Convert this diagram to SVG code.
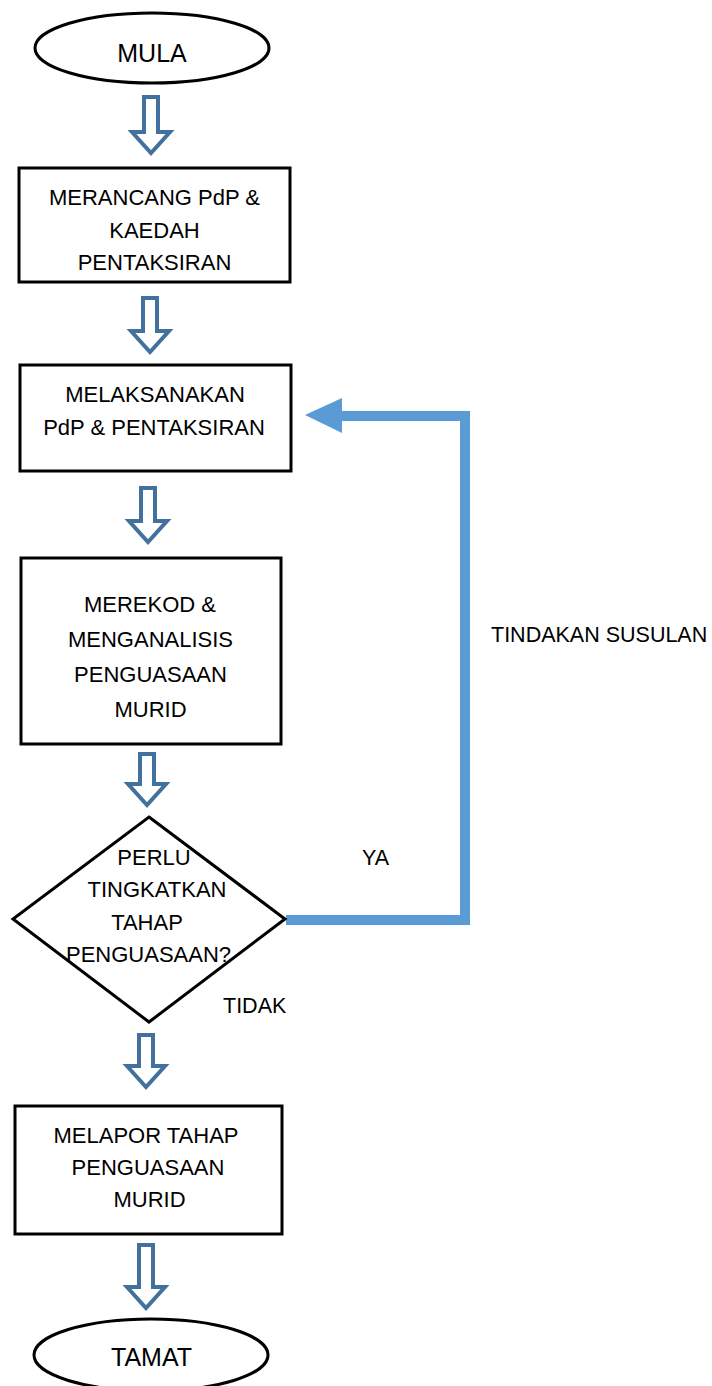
<svg xmlns="http://www.w3.org/2000/svg" width="712" height="1386" viewBox="0 0 712 1386">
<style>
  .shape { fill: #ffffff; stroke: #000000; stroke-width: 3; }
  .t { font-family: "Liberation Sans", Arial, sans-serif; font-size: 22px; fill: #000000; text-anchor: middle; }
  .tl { font-family: "Liberation Sans", Arial, sans-serif; font-size: 21.5px; fill: #000000; }
  .big { font-size: 25px; }
  .blk { fill: #ffffff; stroke: #41719C; stroke-width: 4; stroke-linejoin: miter; }
  .loop { fill: none; stroke: #5B9BD5; stroke-width: 10; stroke-linejoin: miter; }
</style>
<rect width="712" height="1386" fill="#ffffff"/>

<g id="connectors">
  <path class="blk" d="M144,97 H158 V132 H170 L151,153 L132,132 H144 Z"/>
  <path class="blk" d="M143,298 H157 V331 H169 L150,352 L131,331 H143 Z"/>
  <path class="blk" d="M141,488 H155 V521 H167 L148,542 L129,521 H141 Z"/>
  <path class="blk" d="M140,754 H154 V784 H166 L147,805 L128,784 H140 Z"/>
  <path class="blk" d="M139,1035 H153 V1066 H165 L146,1087 L127,1066 H139 Z"/>
  <path class="blk" d="M139,1245 H153 V1287 H165 L146,1308 L127,1287 H139 Z"/>
  <path class="loop" d="M286,920 H465 V416 H340"/>
  <polygon fill="#5B9BD5" points="305,415 342,398 342,433"/>
  <text class="tl" x="491" y="642">TINDAKAN SUSULAN</text>
  <text class="tl" x="362" y="865">YA</text>
  <text class="tl" x="223" y="1013">TIDAK</text>
</g>

<g id="mula">
  <ellipse class="shape" cx="152" cy="48" rx="117" ry="35" stroke-width="2.5"/>
  <text class="t big" x="152" y="62">MULA</text>
</g>

<g id="merancang">
  <rect class="shape" x="19" y="168" width="271" height="114"/>
  <text class="t" x="154.5" y="205">MERANCANG PdP &amp;</text>
  <text class="t" x="154.5" y="238">KAEDAH</text>
  <text class="t" x="154.5" y="270">PENTAKSIRAN</text>
</g>

<g id="melaksanakan">
  <rect class="shape" x="20" y="365" width="271" height="106"/>
  <text class="t" x="155" y="402">MELAKSANAKAN</text>
  <text class="t" x="154" y="435">PdP &amp; PENTAKSIRAN</text>
</g>

<g id="merekod">
  <rect class="shape" x="21" y="558" width="260" height="186"/>
  <text class="t" x="150" y="612">MEREKOD &amp;</text>
  <text class="t" x="150.5" y="647">MENGANALISIS</text>
  <text class="t" x="150.5" y="682">PENGUASAAN</text>
  <text class="t" x="150.5" y="717">MURID</text>
</g>

<g id="keputusan">
  <polygon class="shape" points="149,817 285,919 149,1022 13,919"/>
  <text class="t" x="154" y="865">PERLU</text>
  <text class="t" x="157" y="897">TINGKATKAN</text>
  <text class="t" x="147" y="930">TAHAP</text>
  <text class="t" x="148.5" y="962">PENGUASAAN?</text>
</g>

<g id="melapor">
  <rect class="shape" x="15" y="1106" width="267" height="128"/>
  <text class="t" x="146" y="1143">MELAPOR TAHAP</text>
  <text class="t" x="148" y="1175">PENGUASAAN</text>
  <text class="t" x="149.5" y="1207">MURID</text>
</g>

<g id="tamat">
  <ellipse class="shape" cx="151" cy="1355" rx="117" ry="36" stroke-width="2.5"/>
  <text class="t big" x="151.5" y="1366">TAMAT</text>
</g>
</svg>
